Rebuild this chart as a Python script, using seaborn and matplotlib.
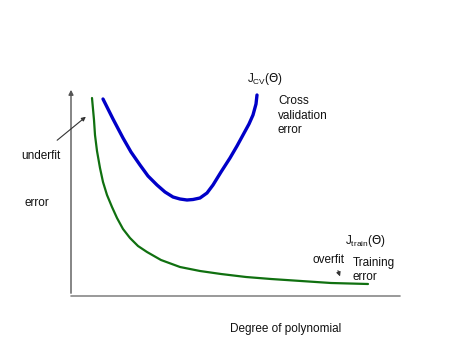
import seaborn as sns
import matplotlib.pyplot as plt

# points (x = degree, y = error, arbitrary units)
train_x = [21, 23, 24, 26, 29, 32, 36, 41, 46, 52, 59, 67, 76, 90, 109, 129, 150, 175, 200, 230, 260, 297]
train_y = [198, 176, 161, 145, 128, 114, 101, 89, 78, 67, 58, 50, 44, 36, 29, 25, 22, 19, 17, 15, 13, 12]

cv_x = [32, 42, 52, 60, 69, 77, 86, 94, 102, 109, 116, 122, 129, 136, 142, 150, 159, 166, 172, 178, 182, 185, 186]
cv_y = [197, 177, 158, 144, 131, 120, 111, 104, 99, 97, 96, 96.5, 98, 103, 111, 124, 138, 150, 161, 172, 181, 192, 201]

sns.set_style("white")
plt.rcParams['font.family'] = ['Liberation Sans', 'DejaVu Sans']

fig = plt.figure(figsize=(4.74, 3.55), dpi=100)
ax = fig.add_axes([0, 0, 1, 1])
ax.set_xlim(-71, 403)
ax.set_ylim(-59, 296)
ax.axis('off')

sns.lineplot(x=train_x, y=train_y, ax=ax, color='#107010', linewidth=1.6)
sns.lineplot(x=cv_x, y=cv_y, ax=ax, color='#0000c8', linewidth=2.4)

# axes
ax.annotate('', xy=(0, 209), xytext=(0, 0),
            arrowprops=dict(arrowstyle='-|>', color='#555555', lw=1, mutation_scale=7))
ax.plot([0, 329], [0, 0], color='#888888', lw=1.2)

fs = 8.5
tc = '#111111'
ax.text(176, 214, r'J$_{\mathregular{CV}}$($\Theta$)', fontsize=fs, color=tc)
ax.text(207, 160, 'Cross\nvalidation\nerror', fontsize=fs, va='bottom', linespacing=1.25, color=tc)
ax.text(274, 52, r'J$_{\mathregular{train}}$($\Theta$)', fontsize=fs, color=tc)
ax.text(282, 13, 'Training\nerror', fontsize=fs, va='bottom', linespacing=1.25, color=tc)
ax.text(242, 33, 'overfit', fontsize=fs, color=tc)
ax.text(-50, 140, 'underfit', fontsize=fs, va='center', color=tc)
ax.text(-46, 93, 'error', fontsize=fs, va='center', color=tc)
ax.text(159, -33, 'Degree of polynomial', fontsize=fs, va='center', color=tc)

ax.annotate('', xy=(17, 181), xytext=(-16, 154),
            arrowprops=dict(arrowstyle='-|>', color='#333333', lw=0.8, mutation_scale=6))
ax.annotate('', xy=(270, 17), xytext=(266, 28),
            arrowprops=dict(arrowstyle='-|>', color='#333333', lw=0.8, mutation_scale=6))

fig.savefig('out.png', dpi=100)
